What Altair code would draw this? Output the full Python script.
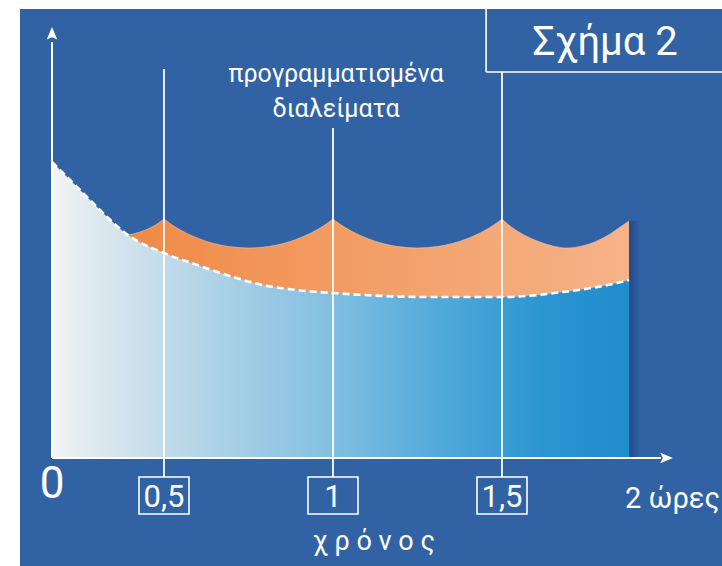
import altair as alt
import pandas as pd

# Continuous work: fatigue level over time (hours)
curve_hours = [0.0, 0.094, 0.183, 0.246, 0.339, 0.5, 0.607, 0.704, 0.793, 0.893,
               1.0, 1.287, 1.5, 1.68, 1.84, 1.876]
curve_level = [74.0, 68.75, 63.75, 60.25, 55.75, 51.25, 48.0, 45.25, 43.25, 42.0,
               41.25, 40.25, 40.25, 41.5, 43.75, 44.5]

# Work with scheduled breaks: one scallop per interval
break_hours = [
    [0.339, 0.393, 0.4375, 0.469, 0.5],
    [0.5, 0.515, 0.536, 0.565, 0.604, 0.648, 0.692, 0.75,
     0.808, 0.852, 0.896, 0.935, 0.964, 0.985, 1.0],
    [1.0, 1.015, 1.036, 1.065, 1.104, 1.148, 1.192, 1.25,
     1.308, 1.352, 1.396, 1.435, 1.464, 1.485, 1.5],
    [1.5, 1.515, 1.536, 1.565, 1.604, 1.65, 1.689, 1.731, 1.781, 1.82, 1.85, 1.876],
]
break_level = [
    [55.75, 56.5, 57.5, 58.5, 59.75],
    [59.75, 58.8, 57.6, 56.25, 54.8, 53.6, 52.85, 52.5,
     52.85, 53.6, 54.8, 56.25, 57.6, 58.8, 59.75],
    [59.75, 58.8, 57.6, 56.25, 54.8, 53.6, 52.85, 52.5,
     52.85, 53.6, 54.8, 56.25, 57.6, 58.8, 59.75],
    [59.75, 58.6, 57.25, 55.75, 54.25, 53.0, 52.5, 52.9, 54.25, 56.0, 57.75, 59.25],
]

# Break instants and their labels
break_marks = [0.5, 1.0, 1.5]
break_labels = ["0,5", "1", "1,5"]
break_line_top = [97.25, 82.5, 96.5]

BG = "#3162a4"
WHITE = "#ffffff"
FONT = "Roboto"

# piecewise x scale: the first half hour is drawn compressed
x_scale = alt.Scale(domain=[0, 0.5, 2], range=[32, 144, 651], nice=False, zero=False)
y_scale = alt.Scale(domain=[-27, 112.25], nice=False, zero=False)

# single-row table for annotation marks
one = pd.DataFrame({"n": [1]})


def X(field="t"):
    return alt.X(f"{field}:Q", scale=x_scale, axis=None)


def Y(field="v"):
    return alt.Y(f"{field}:Q", scale=y_scale, axis=None)


def XD(value):
    return alt.X(datum=value, type="quantitative", scale=x_scale, axis=None)


def YD(value):
    return alt.Y(datum=value, type="quantitative", scale=y_scale, axis=None)


def mix(c1, c2, f):
    a = [int(c1[i:i + 2], 16) for i in (1, 3, 5)]
    b = [int(c2[i:i + 2], 16) for i in (1, 3, 5)]
    return "#" + "".join(f"{round(p + (q - p) * f):02x}" for p, q in zip(a, b))


def hgrad(stops):
    return alt.Gradient(
        gradient="linear", x1=0, y1=0, x2=1, y2=0,
        stops=[alt.GradientStop(color=c, offset=o) for o, c in stops],
    )


curve_df = pd.DataFrame({"t": curve_hours, "v": curve_level})

# orange scallops, each with its slice of the left-to-right colour ramp
ORANGE_L, ORANGE_R = "#ef8945", "#f6b388"
t_lo, t_hi = break_hours[0][0], break_hours[-1][-1]
seg_rows = []
orange_layers = []
for i, (hs, ls) in enumerate(zip(break_hours, break_level)):
    df = pd.DataFrame({"t": hs, "v": ls, "seg": i})
    seg_rows.append(df)
    f0 = (hs[0] - t_lo) / (t_hi - t_lo)
    f1 = (hs[-1] - t_lo) / (t_hi - t_lo)
    orange_layers.append(
        alt.Chart(df).mark_area(
            interpolate="monotone",
            fill=hgrad([(0, mix(ORANGE_L, ORANGE_R, f0)), (1, mix(ORANGE_L, ORANGE_R, f1))]),
        ).encode(x=X(), y=Y(), y2=alt.datum(0))
    )
seg_df = pd.concat(seg_rows, ignore_index=True)

orange_edge = alt.Chart(seg_df).mark_line(
    interpolate="monotone", color="#f8c9ad", strokeWidth=1, opacity=0.55
).encode(x=X(), y=Y(), detail="seg:N")

# soft shadow along the right edge of the filled region
shadow = alt.Chart(one).mark_rect(
    fill=hgrad([(0, "#21498a"), (1, BG)])
).encode(
    x=XD(curve_hours[-1]), x2=alt.datum(curve_hours[-1] + 0.032),
    y=YD(0), y2=alt.datum(break_level[-1][-1]),
)

blue_area = alt.Chart(curve_df).mark_area(
    interpolate="monotone",
    fill=hgrad([(0, "#f3f5f7"), (0.08, "#dde8ef"), (0.24, "#b7d6e8"), (0.47, "#85c1e1"),
                (0.66, "#54abdb"), (0.85, "#2b95d1"), (1, "#1f8ccc")]),
).encode(x=X(), y=Y(), y2=alt.datum(0))

dashed = alt.Chart(curve_df).mark_line(
    interpolate="monotone", color=WHITE, strokeWidth=2.6, strokeDash=[7, 4]
).encode(x=X(), y=Y())

marks_df = pd.DataFrame({"t": break_marks, "label": break_labels, "top": break_line_top})

break_rules = alt.Chart(marks_df).mark_rule(color=WHITE, strokeWidth=1.8).encode(
    x=X(), y=Y("top"), y2=alt.datum(-4.75)
)

label_boxes = alt.Chart(marks_df).mark_point(
    shape="M-1,-0.74 L1,-0.74 L1,0.74 L-1,0.74 Z",
    size=2500, filled=False, stroke=WHITE, strokeWidth=1.6, opacity=1,
).encode(x=X(), y=YD(-9.375))

label_text = alt.Chart(marks_df).mark_text(
    font=FONT, fontSize=31, color=WHITE, align="center", baseline="alphabetic"
).encode(x=X(), y=YD(-12.25), text="label:N")

# axes with arrowheads
y_axis = alt.Chart(one).mark_rule(color=WHITE, strokeWidth=2).encode(
    x=XD(0), y=YD(0), y2=alt.datum(104)
)
x_axis = alt.Chart(one).mark_rule(color=WHITE, strokeWidth=2).encode(
    x=XD(0), x2=alt.datum(1.97), y=YD(0)
)
y_arrow = alt.Chart(one).mark_point(
    shape="M0,-1 L0.75,0.8 L0,0.45 L-0.75,0.8 Z", size=196,
    filled=True, color=WHITE, opacity=1,
).encode(x=XD(0), y=YD(106))
x_arrow = alt.Chart(one).mark_point(
    shape="M1,0 L-0.8,0.75 L-0.45,0 L-0.8,-0.75 Z", size=196,
    filled=True, color=WHITE, opacity=1,
).encode(x=XD(1.985), y=YD(0))

# figure tag box
tag_v = alt.Chart(one).mark_rule(color=WHITE, strokeWidth=1.6).encode(
    x=XD(1.453), y=YD(96.5), y2=alt.datum(115)
)
tag_h = alt.Chart(one).mark_rule(color=WHITE, strokeWidth=1.6).encode(
    x=XD(1.453), x2=alt.datum(2.3), y=YD(96.5)
)


def label(text, t, v, size, align="center"):
    return alt.Chart(one).mark_text(
        text=text, font=FONT, fontSize=size, color=WHITE,
        align=align, baseline="alphabetic",
    ).encode(x=XD(t), y=YD(v))


texts = [
    label("Σχήμα 2", 1.805, 100.75, 40),
    label("προγραμματισμένα", 1.009, 94.0, 25),
    label("διαλείματα", 1.009, 85.25, 25),
    label("χ  ρ  ό  ν  ο  ς", 1.121, -23.0, 27),
    label("2  ώρες", 1.864, -12.5, 29, align="left"),
    label("0", 0, -10.0, 44),
]

chart = alt.layer(
    *orange_layers, orange_edge, shadow, blue_area, dashed,
    break_rules, label_boxes, label_text,
    y_axis, x_axis, y_arrow, x_arrow, tag_v, tag_h, *texts,
).properties(
    width=702, height=557,
    padding={"left": 20, "top": 9, "right": 0, "bottom": 0},
    autosize="none", background=WHITE,
).configure_view(fill=BG, strokeWidth=0)

chart.save("out.html", embed_options={"renderer": "svg", "actions": False})
